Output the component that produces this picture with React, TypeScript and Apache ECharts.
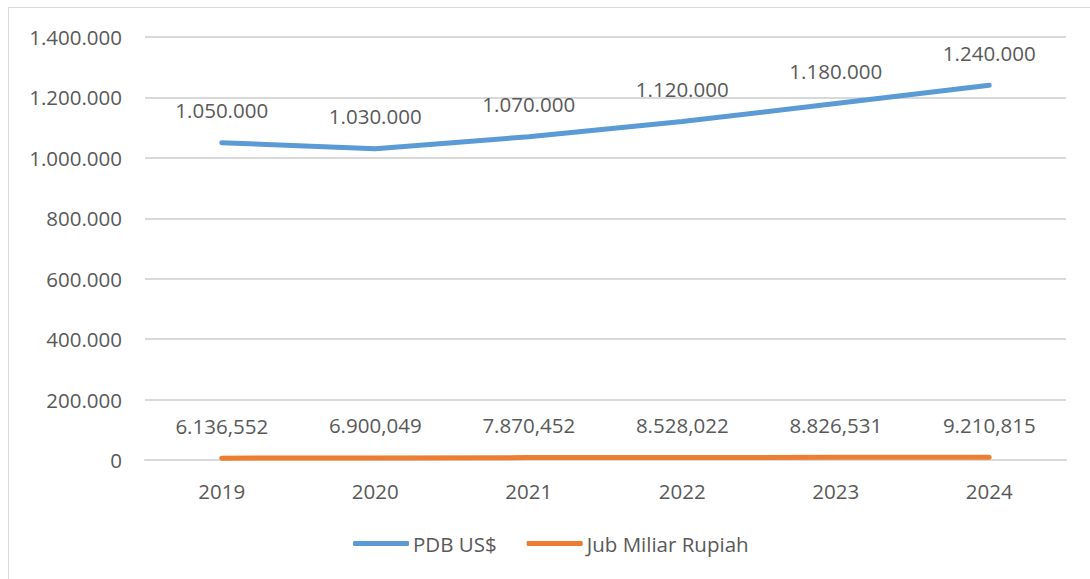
import React, { useEffect, useRef } from "react";
import * as echarts from "echarts";

const years = ["2019", "2020", "2021", "2022", "2023", "2024"];
const pdbUsd = [1050000, 1030000, 1070000, 1120000, 1180000, 1240000];
const jubMiliarRupiah = [6136.552, 6900.049, 7870.452, 8528.022, 8826.531, 9210.815];
const yTicks = { min: 0, max: 1400000, interval: 200000 };

const FONT = "'Open Sans', 'Noto Sans', sans-serif";
const TEXT = "#595959";
const FS = 20.5;

function groupThousands(s: string): string {
  return s.replace(/\B(?=(\d{3})+(?!\d))/g, ".");
}

function fmtInt(v: number): string {
  return groupThousands(Math.round(v).toString());
}

function fmtDec(v: number): string {
  const [i, d] = v.toFixed(3).split(".");
  return groupThousands(i) + "," + d;
}

export default function App() {
  const ref = useRef<HTMLDivElement>(null);
  useEffect(() => {
    if (!ref.current) return;
    const chart = echarts.init(ref.current, undefined, { renderer: "svg" });
    chart.setOption({
      animation: false,
      textStyle: { fontFamily: FONT },
      grid: { left: 145, right: 24, top: 37, bottom: 119, containLabel: false },
      xAxis: {
        type: "category",
        data: years,
        boundaryGap: true,
        axisLine: { lineStyle: { color: "#d9d9d9", width: 2 } },
        axisTick: { show: false },
        axisLabel: { color: TEXT, fontSize: FS, margin: 20, fontFamily: FONT },
      },
      yAxis: {
        type: "value",
        min: yTicks.min,
        max: yTicks.max,
        interval: yTicks.interval,
        axisLine: { show: false },
        axisTick: { show: false },
        splitLine: { lineStyle: { color: "#d9d9d9", width: 2 } },
        axisLabel: {
          color: TEXT,
          fontSize: FS,
          margin: 23,
          fontFamily: FONT,
          formatter: (v: number) => fmtInt(v),
        },
      },
      legend: {
        bottom: 20,
        left: 348,
        itemWidth: 56,
        itemHeight: 5,
        itemGap: 30,
        icon: "roundRect",
        textStyle: { color: TEXT, fontSize: FS, fontFamily: FONT, padding: [0, 0, 0, -1] },
        data: ["PDB US$", "Jub Miliar Rupiah"],
      },
      series: [
        {
          name: "PDB US$",
          type: "line",
          data: pdbUsd,
          showSymbol: true,
          symbol: "circle",
          symbolSize: 0.1,
          lineStyle: { color: "#5B9BD5", width: 5, cap: "round" },
          itemStyle: { color: "#5B9BD5" },
          label: {
            show: true,
            position: "top",
            distance: 22,
            color: TEXT,
            fontSize: FS,
            fontFamily: FONT,
            formatter: (p: any) => fmtInt(p.value),
          },
        },
        {
          name: "Jub Miliar Rupiah",
          type: "line",
          data: jubMiliarRupiah,
          showSymbol: true,
          symbol: "circle",
          symbolSize: 0.1,
          lineStyle: { color: "#ED7D31", width: 5, cap: "round" },
          itemStyle: { color: "#ED7D31" },
          label: {
            show: true,
            position: "top",
            distance: 22,
            color: TEXT,
            fontSize: FS,
            fontFamily: FONT,
            formatter: (p: any) => fmtDec(p.value),
          },
        },
      ],
    });
    return () => chart.dispose();
  }, []);
  return (
    <div
      style={{
        position: "absolute",
        left: 8,
        top: 7,
        width: 1082,
        height: 572,
        borderTop: "1px solid #d9d9d9",
        borderLeft: "1px solid #d9d9d9",
        boxSizing: "border-box",
      }}
    >
      <div ref={ref} style={{ position: "absolute", left: -9, top: -8, width: 1090, height: 579 }} />
    </div>
  );
}
